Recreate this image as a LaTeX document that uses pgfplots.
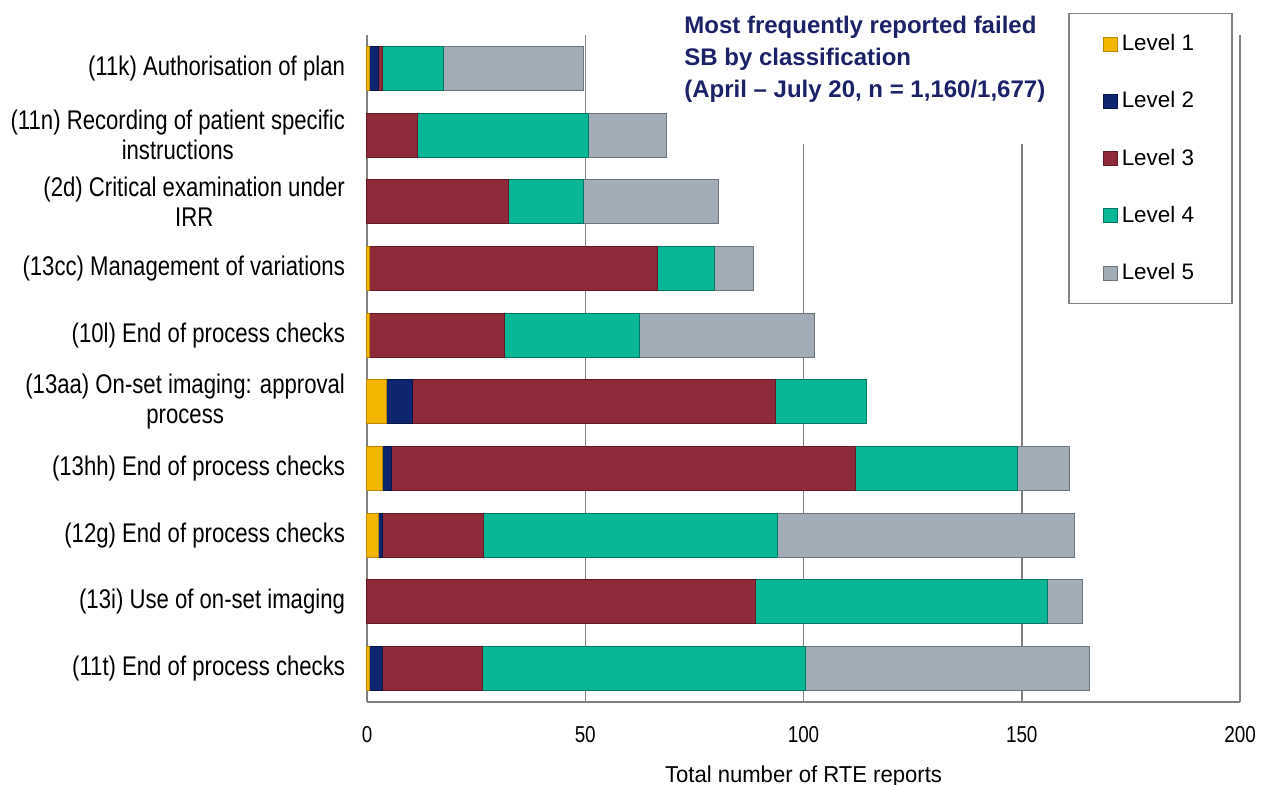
\documentclass[border=0pt]{standalone}
\usepackage{pgfplots}
\pgfplotsset{compat=1.18}
\usepackage{pgfplotstable}
\usepackage{fontspec}
\setmainfont{Liberation Sans}
\newfontfamily\narrowfont[FakeStretch=0.82]{Liberation Sans}
\newfontfamily\xlabfont[FakeStretch=0.96]{Liberation Sans}
\definecolor{lvA}{RGB}{242,182,0}
\definecolor{lvAd}{RGB}{185,135,0}
\definecolor{lvB}{RGB}{14,38,112}
\definecolor{lvBd}{RGB}{8,22,70}
\definecolor{lvC}{RGB}{142,42,57}
\definecolor{lvCd}{RGB}{98,26,36}
\definecolor{lvD}{RGB}{9,183,150}
\definecolor{lvDd}{RGB}{5,118,96}
\definecolor{lvE}{RGB}{162,172,182}
\definecolor{lvEd}{RGB}{108,116,124}
\definecolor{titleblue}{RGB}{28,34,104}
\definecolor{axgray}{RGB}{128,128,128}

\pgfplotstableread{
y L1 L2 L3 L4 L5
0 0.5 3 23 74 65
1 0 0 89 67 8
2 2.6 1 23 67.5 68
3 3.5 2 106.5 37 12
4 4.5 6 83 21 0
5 0.6 0 30.8 31.1 40.1
6 0.6 0 66 13 9
7 0 0 32.5 17 31
8 0 0 11.5 39.2 17.8
9 0.5 2.1 1 14 32
}\datatable

\begin{document}
\begin{tikzpicture}
\useasboundingbox (-183.5pt,-41.5pt) rectangle (447pt,351pt);
\begin{axis}[
  scale only axis, width=436.5pt, height=333.5pt,
  xbar stacked, bar width=0.66,
  xmin=0, xmax=200, ymin=-0.5, ymax=9.5,
  clip=false,
  xtick={0,50,100,150,200}, ytick={0,1,2,3,4,5,6,7,8,9},
  yticklabels={(11t) End of process checks, (13i) Use of on-set imaging, (12g) End of process checks, (13hh) End of process checks, {(13aa) On-set imaging: approval\\process}, (10l) End of process checks, (13cc) Management of variations, {(2d) Critical examination under\\IRR}, {(11n) Recording of patient specific\\instructions}, (11k) Authorisation of plan},
  xmajorgrids, grid style={axgray, line width=0.75pt},
  axis x line*=bottom, axis y line*=left,
  axis line style={axgray, line width=0.75pt, -},
  major tick length=0,
  /pgf/number format/assume math mode=true,
  xticklabel style={font=\narrowfont\fontsize{11.5}{12}\selectfont, anchor=base, yshift=-20.5pt},
  yticklabel style={font=\narrowfont\fontsize{13.5}{15}\selectfont, align=center, anchor=east, xshift=-7.5pt},
  xlabel={Total number of RTE reports},
  xlabel style={font=\xlabfont\fontsize{11.5}{12}\selectfont, at={(axis description cs:0.5,0)}, anchor=base, yshift=-40.5pt},
  legend style={at={(rel axis cs:0.803,1.0334)}, anchor=north west, draw=axgray, line width=0.75pt, fill=white,
    font=\fontsize{11.2}{12}\selectfont, inner xsep=17pt, inner ysep=8.5pt, row sep=15pt},
  legend cell align=left,
  legend image code/.code={\draw[#1, line width=0.5pt] (0pt,-3.5pt) rectangle (7pt,3.5pt);},
]
\addplot[fill=lvA, draw=lvAd, line width=0.5pt] table[x=L1, y=y] {\datatable};
\addplot[fill=lvB, draw=lvBd, line width=0.5pt] table[x=L2, y=y] {\datatable};
\addplot[fill=lvC, draw=lvCd, line width=0.5pt] table[x=L3, y=y] {\datatable};
\addplot[fill=lvD, draw=lvDd, line width=0.5pt] table[x=L4, y=y] {\datatable};
\addplot[fill=lvE, draw=lvEd, line width=0.5pt] table[x=L5, y=y] {\datatable};
\legend{Level 1, Level 2, Level 3, Level 4, Level 5}
\end{axis}
\fill[white] (150.5pt,279pt) rectangle (347.5pt,351pt);
\node[anchor=north west, align=left, inner sep=0pt, text=titleblue,
  font=\bfseries\fontsize{12}{15.85}\selectfont] at (158.5pt,343pt)
  {Most frequently reported failed\\SB by classification\\(April -- July 20, n = 1,160/1,677)};
\end{tikzpicture}
\end{document}
